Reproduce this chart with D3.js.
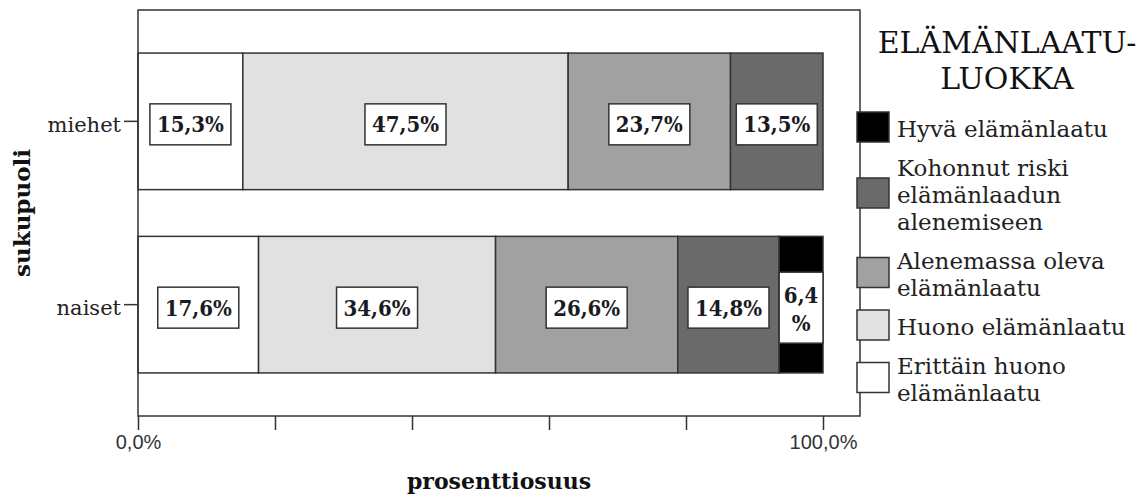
<!DOCTYPE html>
<html>
<head>
<meta charset="utf-8">
<script src="https://cdn.jsdelivr.net/npm/d3@7"></script>
<style>
  body { margin: 0; background: #ffffff; }
  svg { display: block; }
</style>
</head>
<body>
<svg id="chart" width="1148" height="500"></svg>
<script>
// ---- data ----
const groups = ["miehet", "naiset"];
const categories = [
  "Erittäin huono elämänlaatu",
  "Huono elämänlaatu",
  "Alenemassa oleva elämänlaatu",
  "Kohonnut riski elämänlaadun alenemiseen",
  "Hyvä elämänlaatu"
];
const legendLines = [
  ["Erittäin huono", "elämänlaatu"],
  ["Huono elämänlaatu"],
  ["Alenemassa oleva", "elämänlaatu"],
  ["Kohonnut riski", "elämänlaadun", "alenemiseen"],
  ["Hyvä elämänlaatu"]
];
const miehetValues = [15.3, 47.5, 23.7, 13.5, 0];
const naisetValues = [17.6, 34.6, 26.6, 14.8, 6.4];
const tickValues = [0, 20, 40, 60, 80, 100];
const tickLabels = ["0,0%", "", "", "", "", "100,0%"];
const legendTitle = ["ELÄMÄNLAATU-", "LUOKKA"];
const xTitle = "prosenttiosuus";
const yTitle = "sukupuoli";

// ---- styles ----
const colors = ["#ffffff", "#e1e1e1", "#a1a1a1", "#6a6a6a", "#000000"];
const lineColor = "#333333";
const serif = "'DejaVu Serif', serif";
const serifCond = "'DejaVu Serif Condensed', 'DejaVu Serif', serif";
const sans = "'Liberation Sans', Arial, sans-serif";

const valuesByGroup = { miehet: miehetValues, naiset: naisetValues };
const table = groups.map(g => {
  const row = { group: g };
  categories.forEach((c, i) => row[c] = valuesByGroup[g][i]);
  return row;
});
const stack = d3.stack().keys(categories)(table);

const svg = d3.select("#chart");
const frame = { left: 138, top: 10, right: 860, bottom: 416 };

const x = d3.scaleLinear().domain([0, 100]).range([138, 823]);
const y = d3.scaleBand().domain(groups).range([frame.top, frame.bottom])
  .paddingInner(0.255).paddingOuter(0.235);
const color = d3.scaleOrdinal().domain(categories).range(colors);

// bars
const layers = svg.append("g").selectAll("g").data(stack).join("g")
  .attr("fill", d => color(d.key));
layers.selectAll("rect").data(d => d.filter(s => s[1] - s[0] > 0)).join("rect")
  .attr("x", d => x(d[0]))
  .attr("y", d => y(d.data.group))
  .attr("width", d => x(d[1]) - x(d[0]))
  .attr("height", y.bandwidth())
  .attr("stroke", lineColor)
  .attr("stroke-width", 1.5);

// frame
svg.append("rect")
  .attr("x", frame.left).attr("y", frame.top)
  .attr("width", frame.right - frame.left).attr("height", frame.bottom - frame.top)
  .attr("fill", "none").attr("stroke", lineColor).attr("stroke-width", 1.5);

// value labels
const fmt = v => d3.format(".1f")(v).replace(".", ",") + "%";
const labelG = svg.append("g");
stack.forEach(layer => {
  layer.forEach(s => {
    const v = s[1] - s[0];
    if (v <= 0) return;
    const cx = (x(s[0]) + x(s[1])) / 2;
    const cy = y(s.data.group) + y.bandwidth() / 2 + 3;
    const segW = x(s[1]) - x(s[0]);
    const g = labelG.append("g");
    const box = g.append("rect").attr("fill", "#ffffff")
      .attr("stroke", lineColor).attr("stroke-width", 1.5);
    const t = g.append("text")
      .attr("font-family", serifCond).attr("font-weight", "bold")
      .attr("font-size", 22).attr("fill", "#1a1a22")
      .attr("text-anchor", "middle");
    const label = fmt(v);
    t.text(label);
    const tw = t.node().getComputedTextLength();
    if (tw + 12 <= segW) {
      t.attr("x", cx).attr("y", cy + 8);
      const w = tw + 14, h = 41;
      box.attr("x", cx - w / 2).attr("y", cy - h / 2).attr("width", w).attr("height", h);
    } else {
      const parts = [label.replace("%", ""), "%"];
      t.text(null);
      parts.forEach((p, i) => {
        t.append("tspan").attr("x", cx).attr("y", cy - 13 + i * 28 + 8).text(p);
      });
      const w = segW, h = 71;
      box.attr("x", cx - w / 2).attr("y", cy - h / 2).attr("width", w).attr("height", h);
    }
  });
});

// x axis
const xAxis = svg.append("g").attr("transform", `translate(0,${frame.bottom})`)
  .call(d3.axisBottom(x).tickValues(tickValues)
    .tickFormat((d, i) => tickLabels[i]).tickSize(14).tickPadding(5));
xAxis.select(".domain").remove();
xAxis.selectAll(".tick line").attr("stroke", lineColor).attr("stroke-width", 1.5);
xAxis.selectAll(".tick text").attr("font-family", sans).attr("font-size", 20).attr("fill", "#333");

// y axis
const yAxis = svg.append("g").attr("transform", `translate(${frame.left},0)`)
  .call(d3.axisLeft(y).tickSize(14).tickPadding(3));
yAxis.select(".domain").remove();
yAxis.selectAll(".tick line").attr("stroke", lineColor).attr("stroke-width", 1.5);
yAxis.selectAll(".tick text").attr("font-family", serif).attr("font-size", 21)
  .attr("fill", "#222").attr("dy", "0.5em");

// axis titles
svg.append("text").attr("x", (frame.left + frame.right) / 2).attr("y", 489)
  .attr("text-anchor", "middle").attr("font-family", serif).attr("font-weight", "bold")
  .attr("font-size", 22).attr("fill", "#111").text(xTitle);
svg.append("text").attr("transform", `translate(30,${(frame.top + frame.bottom) / 2}) rotate(-90)`)
  .attr("text-anchor", "middle").attr("font-family", serif).attr("font-weight", "bold")
  .attr("font-size", 23).attr("fill", "#111").text(yTitle);

// legend
const lg = svg.append("g");
legendTitle.forEach((t, i) => {
  lg.append("text").attr("x", 1007).attr("y", 53 + i * 36)
    .attr("text-anchor", "middle").attr("font-family", serif)
    .attr("font-size", 30).attr("fill", "#111").text(t);
});
let baseY = 137;
const lineH = 27;
categories.slice().reverse().forEach((c, ri) => {
  const idx = categories.length - 1 - ri;
  const lines = legendLines[idx];
  const last = baseY + (lines.length - 1) * lineH;
  const center = ((baseY - 18) + (last + 6)) / 2 - 4;
  lg.append("rect").attr("x", 857).attr("y", center - 15).attr("width", 32).attr("height", 30)
    .attr("fill", color(c)).attr("stroke", lineColor).attr("stroke-width", 1.5);
  lines.forEach((l, j) => {
    lg.append("text").attr("x", 897).attr("y", baseY + j * lineH)
      .attr("font-family", serif).attr("font-size", 23).attr("fill", "#222").text(l);
  });
  baseY = last + 39;
});
</script>
</body>
</html>
